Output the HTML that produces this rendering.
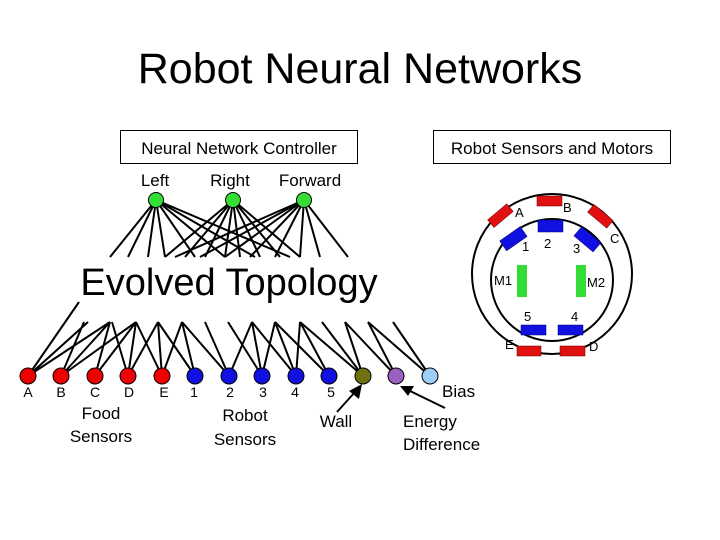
<!DOCTYPE html>
<html><head><meta charset="utf-8"><style>
html,body{margin:0;padding:0;background:#fff;}
svg{display:block;font-family:"Liberation Sans",sans-serif;}
</style></head><body>
<svg width="720" height="540" viewBox="0 0 720 540" xmlns="http://www.w3.org/2000/svg">
<text x="360" y="83" font-size="43" text-anchor="middle">Robot Neural Networks</text>
<rect x="120.5" y="130.5" width="237" height="33" fill="none" stroke="#000"/>
<text x="239" y="154" font-size="17" text-anchor="middle">Neural Network Controller</text>
<rect x="433.5" y="130.5" width="237" height="33" fill="none" stroke="#000"/>
<text x="552" y="154" font-size="17" text-anchor="middle">Robot Sensors and Motors</text>
<g font-size="17" text-anchor="middle"><text x="155" y="186">Left</text><text x="230" y="186">Right</text><text x="310" y="186">Forward</text></g>
<g stroke="#000" stroke-width="2">
<path d="M156 200L110 257M156 200L128 257M156 200L148 257M156 200L165 257M156 200L195 257M156 200L225 257M156 200L255 257M156 200L290 257"/>
<path d="M233 200L165 257M233 200L185 257M233 200L205 257M233 200L225 257M233 200L240 257M233 200L260 257M233 200L280 257M233 200L300 257"/>
<path d="M304 200L175 257M304 200L200 257M304 200L225 257M304 200L250 257M304 200L275 257M304 200L300 257M304 200L320 257M304 200L348 257"/>
<path d="M28 376L79 302M28 376L88 322M28 376L110 322M61 376L84 322M61 376L110 322M61 376L136 322M95 376L110 322M95 376L136 322M128 376L112 322M128 376L136 322M128 376L158 322M162 376L158 322M162 376L136 322M162 376L182 322M195 376L158 322M195 376L182 322M229 376L205 322M229 376L182 322M229 376L252 322M262 376L228 322M262 376L252 322M262 376L275 322M296 376L252 322M296 376L275 322M296 376L300 322M329 376L300 322M329 376L275 322M363 376L322 322M363 376L345 322M363 376L300 322M396 376L345 322M396 376L368 322M430 376L393 322M430 376L368 322"/>
</g>
<text x="229" y="295" font-size="38" text-anchor="middle">Evolved Topology</text>
<g stroke="#000" stroke-width="1">
<circle cx="156" cy="200" r="7.5" fill="#33dd33"/><circle cx="233" cy="200" r="7.5" fill="#33dd33"/><circle cx="304" cy="200" r="7.5" fill="#33dd33"/>
<circle cx="28" cy="376" r="8" fill="#e00"/><circle cx="61" cy="376" r="8" fill="#e00"/><circle cx="95" cy="376" r="8" fill="#e00"/><circle cx="128" cy="376" r="8" fill="#e00"/><circle cx="162" cy="376" r="8" fill="#e00"/>
<circle cx="195" cy="376" r="8" fill="#1010e0"/><circle cx="229" cy="376" r="8" fill="#1010e0"/><circle cx="262" cy="376" r="8" fill="#1010e0"/><circle cx="296" cy="376" r="8" fill="#1010e0"/><circle cx="329" cy="376" r="8" fill="#1010e0"/>
<circle cx="363" cy="376" r="8" fill="#707010"/><circle cx="396" cy="376" r="8" fill="#9a60c0"/><circle cx="430" cy="376" r="8" fill="#9ccef8"/>
</g>
<g font-size="14" text-anchor="middle"><text x="28" y="397">A</text><text x="61" y="397">B</text><text x="95" y="397">C</text><text x="129" y="397">D</text><text x="164" y="397">E</text><text x="194" y="397">1</text><text x="230" y="397">2</text><text x="263" y="397">3</text><text x="295" y="397">4</text><text x="331" y="397">5</text></g>
<g font-size="17"><text x="442" y="397">Bias</text>
<text x="101" y="419" text-anchor="middle">Food</text><text x="101" y="442" text-anchor="middle">Sensors</text>
<text x="245" y="421" text-anchor="middle">Robot</text><text x="245" y="445" text-anchor="middle">Sensors</text>
<text x="336" y="427" text-anchor="middle">Wall</text>
<text x="403" y="427">Energy</text><text x="403" y="450">Difference</text></g>
<g stroke="#000" stroke-width="2"><path d="M337 412L355 392"/><path d="M445 408L408 390"/></g>
<polygon points="362,384 359,399 349,391" fill="#000"/>
<polygon points="400,386 414,386 408,396" fill="#000"/>
<circle cx="552" cy="274" r="80" fill="none" stroke="#000" stroke-width="2"/>
<circle cx="552" cy="280" r="61" fill="none" stroke="#000" stroke-width="2"/>
<g fill="#e01010" stroke="#600" stroke-width="0.5">
<rect x="537" y="196" width="25" height="10"/><rect x="517" y="346" width="24" height="10"/><rect x="560" y="346" width="25" height="10"/>
<rect x="488" y="211" width="25" height="10" transform="rotate(-40 500 216)"/><rect x="588" y="211" width="25" height="10" transform="rotate(40 600 216)"/>
</g>
<g fill="#1010e0" stroke="#006" stroke-width="0.5">
<rect x="538" y="220" width="25" height="12"/><rect x="521" y="325" width="25" height="10"/><rect x="558" y="325" width="25" height="10"/>
<rect x="501" y="233" width="25" height="12" transform="rotate(-35 513 239)"/><rect x="575" y="233" width="25" height="12" transform="rotate(40 587 239)"/>
</g>
<g fill="#33dd33"><rect x="517" y="265" width="10" height="32"/><rect x="576" y="265" width="10" height="32"/></g>
<g font-size="13"><text x="515" y="217">A</text><text x="563" y="212">B</text><text x="610" y="243">C</text><text x="522" y="251">1</text><text x="544" y="248">2</text><text x="573" y="253">3</text><text x="494" y="285">M1</text><text x="587" y="287">M2</text><text x="524" y="321">5</text><text x="571" y="321">4</text><text x="505" y="349">E</text><text x="589" y="351">D</text></g>
</svg>
</body></html>
